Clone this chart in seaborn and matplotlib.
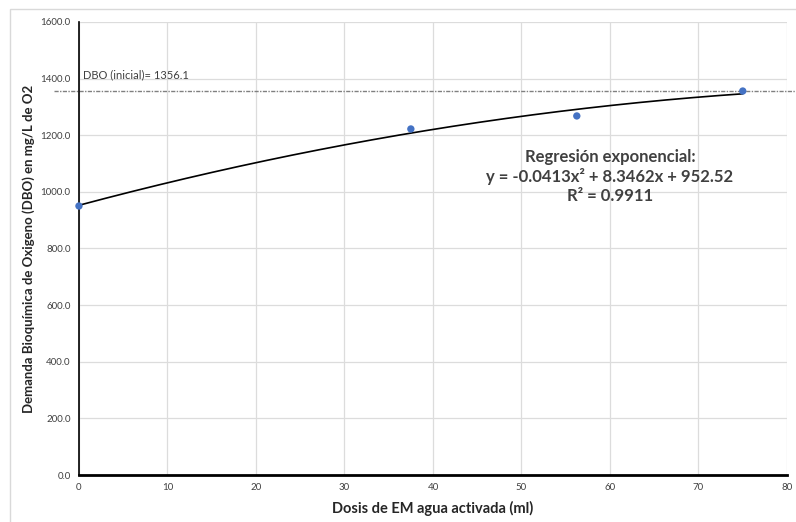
import numpy as np
import matplotlib.pyplot as plt
import pandas as pd
import seaborn as sns
from matplotlib.patches import Rectangle

# measured points
dosis = [0, 37.5, 56.25, 75]
dbo = [950, 1222, 1268, 1356]
# trendline shown on the chart
coef = [-0.0413, 8.3462, 952.52]
dbo_inicial = 1356.1

sns.set_style('white')
plt.rcParams['font.family'] = ['Lato', 'DejaVu Sans']

fig = plt.figure(figsize=(7.96, 5.22), dpi=100)
ax = fig.add_axes([0.0992, 0.090, 0.8895, 0.868])

xs = np.linspace(0, 75, 200)
trend = pd.DataFrame({'x': xs, 'y': np.polyval(coef, xs)})
sns.lineplot(data=trend, x='x', y='y', color='black', linewidth=1.2, ax=ax, zorder=3)
sns.scatterplot(x=dosis, y=dbo, color='#4472c4', s=28, edgecolor='none', ax=ax, zorder=4, clip_on=False)

ax.set_xlim(0, 80)
ax.set_ylim(0, 1600)
ax.set_xticks(range(0, 81, 10))
ax.set_yticks(range(0, 1601, 200))
ax.set_yticklabels([f'{v:.1f}' for v in range(0, 1601, 200)])
ax.grid(True, color='#dcdcdc', linewidth=0.9)
ax.set_axisbelow(True)
ax.tick_params(labelsize=7, length=0, pad=6, colors='#404040')
for s in ['top', 'right']:
    ax.spines[s].set_visible(False)
ax.spines['left'].set_color('black')
ax.spines['left'].set_linewidth(1.2)
ax.spines['bottom'].set_color('black')
ax.spines['bottom'].set_linewidth(2)

# initial BOD reference line
ax.plot([-2.8, 81.5], [dbo_inicial, dbo_inicial], color='#808080', linestyle=(0, (3, 1, 1, 1)),
        linewidth=1, clip_on=False, zorder=2)
ax.text(0.5, 1395, 'DBO (inicial)= 1356.1', fontsize=8, color='#404040', va='bottom')

ax.text(60, 1150, 'Regresión exponencial:\ny = -0.0413x² + 8.3462x + 952.52\nR² = 0.9911',
        ha='center', va='top', fontsize=12, fontweight='bold', color='#404040', linespacing=1.2)

ax.set_xlabel('Dosis de EM agua activada (ml)', fontsize=10.5, fontweight='bold', color='#262626', labelpad=6)
ax.set_ylabel('Demanda Bioquímica de Oxigeno (DBO) en mg/L de O2', fontsize=9.5, fontweight='bold',
              color='#262626', labelpad=4)

fig.patches.append(Rectangle((0.0126, -0.02), 1.0, 1.0027, transform=fig.transFigure,
                             fill=False, edgecolor='#d9d9d9', linewidth=1))

fig.savefig('out.png', dpi=100)
